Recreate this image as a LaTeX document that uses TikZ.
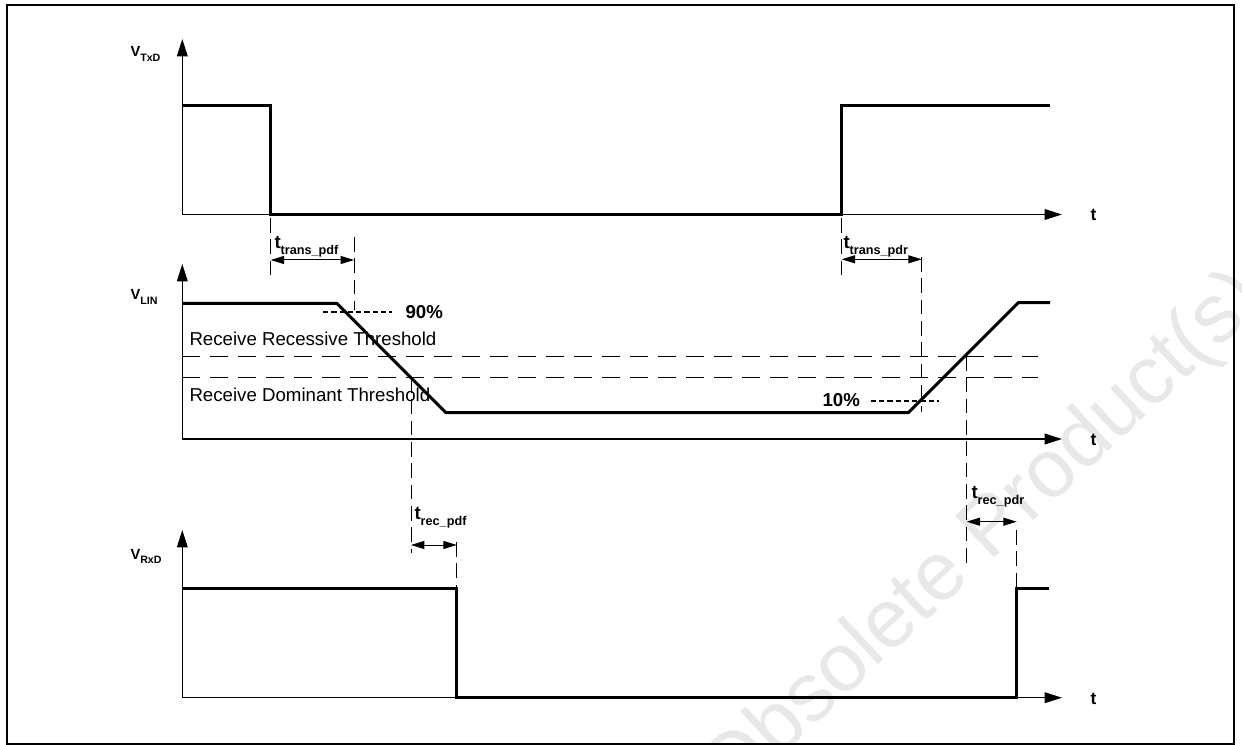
\documentclass[tikz,border=0pt]{standalone}
\usepackage{fontspec}
\setmainfont{Liberation Sans}
\usetikzlibrary{arrows.meta}
\tikzset{every picture/.style={line width=0.75pt}}
\tikzset{
  sig/.style={line width=2.25pt, line join=miter},
  axis/.style={line width=1.1pt, -{Triangle[length=13pt,width=8pt]}},
  thr/.style={line width=0.75pt, dash pattern=on 13.5pt off 7.5pt},
  ext/.style={line width=0.75pt, dash pattern=on 11pt off 5pt},
  lvl/.style={line width=1.3pt, dash pattern=on 4pt off 2.2pt},
  dim/.style={line width=0.75pt, {Triangle[length=10pt,width=6pt]}-{Triangle[length=10pt,width=6pt]}},
}
\newcommand{\vlab}[2]{{\fontsize{11}{11}\selectfont\bfseries #1}\raisebox{-0.7ex}{\fontsize{8}{8}\selectfont\bfseries #2}}
\newcommand{\tlab}[1]{{\fontsize{14}{14}\selectfont\bfseries t}\raisebox{-4.5pt}{\fontsize{9.5}{9.5}\selectfont\bfseries #1}}

\begin{document}
\begin{tikzpicture}[x=0.75pt,y=0.75pt,yscale=-1,xscale=1]
\useasboundingbox (0,0) rectangle (1242,745);

%Watermark
\begin{scope}
\clip (0,0) rectangle (1242,745);
\draw (730,804) node (wm) [anchor=base west, rotate=43, text=gray!18, inner sep=0pt] {\fontsize{62}{62}\selectfont Obsolete Product(s)};
\end{scope}

%Shape: Rectangle (frame)
\draw [line width=1.5pt] (6.5,5.5) rectangle (1233.5,743.5);

%Shape: Axis 2D (TxD)
\coordinate (txO) at (182.3,214.5);
\coordinate (txY) at (182.3,39);
\coordinate (txX) at (1062,214.5);
\draw [axis] (txO) -- (txY);
\draw [axis] (txO) -- (txX);
%Straight Lines (TxD signal)
\coordinate (tx1) at (182.3,105.7);
\coordinate (tx2) at (270.7,105.7);
\coordinate (tx3) at (270.7,214.5);
\coordinate (tx4) at (841.7,214.5);
\coordinate (tx5) at (841.7,105.7);
\coordinate (tx6) at (1050,105.7);
\draw [sig] (tx1) -- (tx2) -- (tx3) -- (tx4) -- (tx5) -- (tx6);

%Shape: Axis 2D (LIN)
\coordinate (liO) at (182.3,439);
\coordinate (liY) at (182.3,264);
\coordinate (liX) at (1062,439);
\draw [axis] (liO) -- (liY);
\draw [axis] (liO) -- (liX);
%Straight Lines (thresholds)
\draw [thr] (182.3,356) -- (1038,356);
\draw [thr] (182.3,377.7) -- (1038,377.7);
%Straight Lines (LIN signal)
\coordinate (li1) at (182.3,303.3);
\coordinate (li2) at (336.7,303.3);
\coordinate (li3) at (446,412.7);
\coordinate (li4) at (908.3,412.7);
\coordinate (li5) at (1018.3,302.7);
\coordinate (li6) at (1050,302.7);
\draw [sig] (li1) -- (li2) -- (li3) -- (li4) -- (li5) -- (li6);
%Straight Lines (90% / 10%)
\draw [lvl] (323,312.3) -- (392,312.3);
\draw [lvl] (870.7,400.7) -- (939.3,400.7);

%Shape: Axis 2D (RxD)
\coordinate (rxO) at (182.3,697.7);
\coordinate (rxY) at (182.3,530);
\coordinate (rxX) at (1062,697.7);
\draw [axis] (rxO) -- (rxY);
\draw [axis] (rxO) -- (rxX);
%Straight Lines (RxD signal)
\coordinate (rx1) at (182.3,588.3);
\coordinate (rx2) at (456.7,588.3);
\coordinate (rx3) at (456.7,697.7);
\coordinate (rx4) at (1016.3,697.7);
\coordinate (rx5) at (1016.3,588.3);
\coordinate (rx6) at (1049.3,588.3);
\draw [sig] (rx1) -- (rx2) -- (rx3) -- (rx4) -- (rx5) -- (rx6);

%Straight Lines (extension lines)
\draw [ext] (270.7,218) -- (270.7,282);
\draw [ext] (354,237) -- (354,310);
\draw [ext] (841.7,218) -- (841.7,280);
\draw [ext] (921.7,257) -- (921.7,412);
\draw [ext] (411,378) -- (411,553);
\draw [ext] (456.7,542) -- (456.7,588);
\draw [ext] (966.7,356) -- (966.7,567);
\draw [ext] (1016.7,530) -- (1016.7,588);

%Straight Lines (delays)
\draw [dim] (270.7,260) -- (354,260);
\draw [dim] (841.7,259.3) -- (921.7,259.3);
\draw [dim] (411,545) -- (456.7,545);
\draw [dim] (966.7,521.7) -- (1016.7,521.7);

% Text Node
\draw (130,57) node (vtxd) [anchor=base west][inner sep=0pt] {\vlab{V}{TxD}};
% Text Node
\draw (130,300) node (vlin) [anchor=base west][inner sep=0pt] {\vlab{V}{LIN}};
% Text Node
\draw (130,559) node (vrxd) [anchor=base west][inner sep=0pt] {\vlab{V}{RxD}};
% Text Node
\draw (1090,221) node (ttx) [anchor=base west][inner sep=0pt] {\fontsize{13}{13}\selectfont\bfseries t};
% Text Node
\draw (1090,445) node (tli) [anchor=base west][inner sep=0pt] {\fontsize{13}{13}\selectfont\bfseries t};
% Text Node
\draw (1090,704) node (trx) [anchor=base west][inner sep=0pt] {\fontsize{13}{13}\selectfont\bfseries t};
% Text Node
\draw (274,249) node (ltpdf) [anchor=base west][inner sep=0pt] {\tlab{trans\_pdf}};
% Text Node
\draw (843,249) node (ltpdr) [anchor=base west][inner sep=0pt] {\tlab{trans\_pdr}};
% Text Node
\draw (414,519) node (lrpdf) [anchor=base west][inner sep=0pt] {\tlab{rec\_pdf}};
% Text Node
\draw (971,498) node (lrpdr) [anchor=base west][inner sep=0pt] {\tlab{rec\_pdr}};
% Text Node
\draw (189,345) node (rrtxt) [anchor=base west][inner sep=0pt] {\fontsize{14}{14}\selectfont Receive Recessive Threshold};
% Text Node
\draw (189,401.7) node (rdtxt) [anchor=base west][inner sep=0pt] {\fontsize{14}{14}\selectfont Receive Dominant Threshold};
% Text Node
\draw (405,318) node (p90) [anchor=base west][inner sep=0pt] {\fontsize{14}{14}\selectfont\bfseries 90\%};
% Text Node
\draw (822,406) node (p10) [anchor=base west][inner sep=0pt] {\fontsize{14}{14}\selectfont\bfseries 10\%};

\end{tikzpicture}
\end{document}
